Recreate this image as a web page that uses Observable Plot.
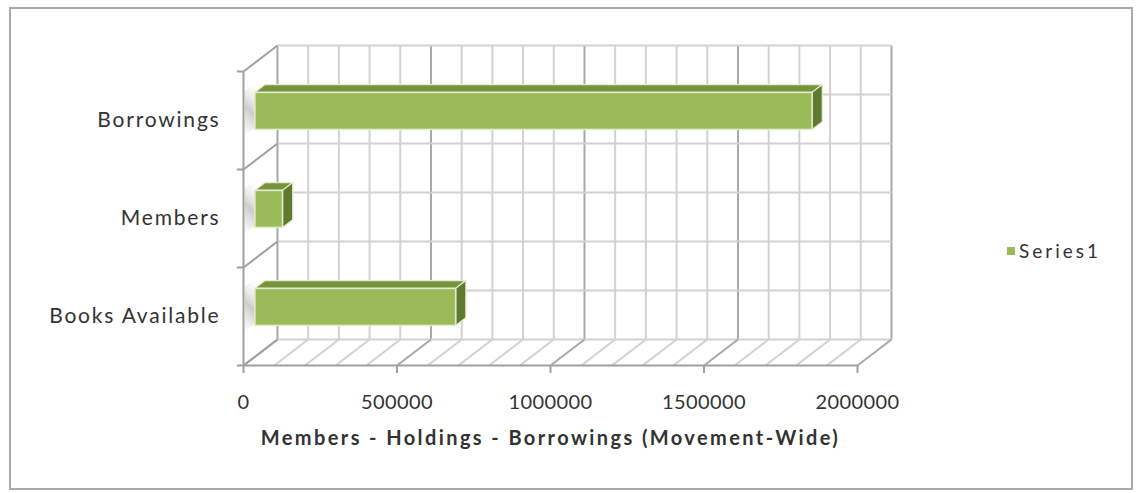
<!DOCTYPE html>
<html>
<head>
<meta charset="utf-8">
<script src="https://cdn.jsdelivr.net/npm/d3@7"></script>
<script src="https://cdn.jsdelivr.net/npm/@observablehq/plot@0.6"></script>
<style>
  html, body { margin: 0; padding: 0; background: #fff; }
  #wrap { position: relative; width: 1136px; height: 493px; font-family: Lato, "Open Sans", sans-serif; }
  #border { position: absolute; left: 9px; top: 7px; width: 1120px; height: 479px; border: 2px solid #a9a9a9; box-sizing: content-box; pointer-events: none; }
  #legend { position: absolute; left: 1007px; top: 239px; display: flex; align-items: center; font-size: 19px; letter-spacing: 3px; color: #333; }
  #legend .sw { width: 8px; height: 8px; background: #9bbb59; margin-right: 4px; }
</style>
</head>
<body>
<div id="wrap">
  <div id="chart"></div>
  <div id="border"></div>
  <div id="legend"><div class="sw"></div><span id="legendText"></span></div>
</div>
<script>
// ---- data ----
const categories = ["Books Available", "Members", "Borrowings"];
const values = [654000, 90000, 1815000];
const xTicks = [0, 500000, 1000000, 1500000, 2000000];
const seriesName = "Series1";
const axisTitle = "Members - Holdings - Borrowings (Movement-Wide)";

// ---- 3D projection constants (oblique) ----
const DX = 110700;   // depth offset in x data units
const DY = 0.265;    // depth offset in y (category) units
const Z0 = 0.35, Z1 = 0.65; // bar depth range
const H = 0.189;     // half bar thickness in category units
const XMAX = 2000000;

const minorTicks = d3.range(0, XMAX + 1, 100000);
const majorTicks = minorTicks.filter(t => t % 500000 === 0);
const minorOnly = minorTicks.filter(t => t % 500000 !== 0);
const hLines = d3.range(0, 3.01, 0.5);
const bandEdges = [0, 1, 2, 3];

const bars = categories.map((c, i) => ({cat: c, v: values[i], i, c: i + 0.5}));
const topRows = bars.flatMap(b => [Z0, Z1].map(z => ({i: b.i, y: b.c + H + z * DY, x1: z * DX, x2: b.v + z * DX})));
const sideRows = bars.flatMap(b => [Z0, Z1].map(z => ({i: b.i, x: b.v + z * DX, y1: b.c - H + z * DY, y2: b.c + H + z * DY})));
// soft shadow on the left wall next to each bar
const shadowRows = bars.flatMap(b => [0.05, Z1].map(z => ({i: b.i, x: z * DX, y1: b.c - H + 0.02 + z * DY, y2: b.c + H + 0.1 + z * DY})));

const gridMinor = "#d2d2d2", gridMajor = "#a8a8a8", axisCol = "#a0a0a0";

const chart = Plot.plot({
  width: 1136, height: 493,
  marginLeft: 243, marginRight: 279, marginTop: 71, marginBottom: 128,
  x: {domain: [0, XMAX]},
  y: {domain: [0, 3], axis: null},
  style: {fontFamily: "Lato, 'Open Sans', sans-serif", color: "#333", background: "transparent", overflow: "visible"},
  marks: [
    // back wall vertical gridlines
    Plot.link(minorOnly, {x1: t => t + DX, x2: t => t + DX, y1: DY, y2: 3 + DY, stroke: gridMinor, strokeWidth: 2}),
    Plot.link(majorTicks, {x1: t => t + DX, x2: t => t + DX, y1: DY, y2: 3 + DY, stroke: gridMajor, strokeWidth: 2}),
    // back wall horizontal gridlines
    Plot.link(hLines, {x1: DX, x2: XMAX + DX, y1: u => u + DY, y2: u => u + DY, stroke: gridMinor, strokeWidth: 2}),
    // floor diagonals
    Plot.link(minorOnly, {x1: t => t, y1: 0, x2: t => t + DX, y2: DY, stroke: gridMinor, strokeWidth: 2}),
    Plot.link(majorTicks, {x1: t => t, y1: 0, x2: t => t + DX, y2: DY, stroke: gridMajor, strokeWidth: 2}),
    // left wall shadows
    Plot.areaY(shadowRows, {x: "x", y1: "y1", y2: "y2", z: "i", fill: "url(#wallShadow)"}),
    // left wall diagonals
    Plot.link(bandEdges, {x1: 0, y1: u => u, x2: DX, y2: u => u + DY, stroke: axisCol, strokeWidth: 2}),
    // front axis lines
    Plot.link([0], {x1: 0, x2: XMAX, y1: 0, y2: 0, stroke: axisCol, strokeWidth: 2}),
    Plot.link([0], {x1: 0, x2: 0, y1: 0, y2: 3, stroke: axisCol, strokeWidth: 2}),
    Plot.ruleY(bandEdges, {x1: -20000, x2: 0, stroke: axisCol, strokeWidth: 2}),
    // bars: top, side, front
    Plot.areaX(topRows, {y: "y", x1: "x1", x2: "x2", z: "i", fill: "#77933c", stroke: "#e3ebd0", strokeWidth: 1.2}),
    Plot.areaY(sideRows, {x: "x", y1: "y1", y2: "y2", z: "i", fill: "#5f7a2f", stroke: "#e3ebd0", strokeWidth: 1.2}),
    Plot.rect(bars, {x1: Z0 * DX, x2: d => d.v + Z0 * DX, y1: d => d.c - H + Z0 * DY, y2: d => d.c + H + Z0 * DY, fill: "#9bbb59", stroke: "#e3ebd0", strokeWidth: 1.5}),
    // x axis
    Plot.axisX(xTicks, {tickSize: 8, tickPadding: 21, fontSize: 20, stroke: axisCol, strokeWidth: 2, fill: "#333", tickFormat: d => String(d), label: null}),
    // category labels
    Plot.text(bars, {x: 0, y: "c", text: "cat", dx: -23, textAnchor: "end", fontSize: 21, fill: "#333"}),
    // axis title
    Plot.text([axisTitle], {frameAnchor: "bottom", dy: 79, fontWeight: "bold", fontSize: 20, fill: "#333"})
  ]
});

// gradient for the wall shadow (soft grey smudge)
const svg = d3.select(chart);
const defs = svg.insert("defs", ":first-child");
const grad = defs.append("linearGradient").attr("id", "wallShadow").attr("x1", "0").attr("x2", "0.3").attr("y1", "1").attr("y2", "0");
grad.append("stop").attr("offset", "0%").attr("stop-color", "#9a9a9a").attr("stop-opacity", 0.0);
grad.append("stop").attr("offset", "45%").attr("stop-color", "#8f8f8f").attr("stop-opacity", 0.45);
grad.append("stop").attr("offset", "100%").attr("stop-color", "#ffffff").attr("stop-opacity", 0.0);

// text letter spacing to mimic the wide original typeface
const textGroups = svg.selectAll('g[aria-label="text"]').nodes();
if (textGroups[0]) d3.select(textGroups[0]).selectAll("text").style("letter-spacing", "1.8px");
if (textGroups[1]) d3.select(textGroups[1]).selectAll("text").style("letter-spacing", "2.4px");
svg.selectAll('g[aria-label="x-axis tick label"] text').style("letter-spacing", "0.4px");

document.getElementById("chart").appendChild(chart);
document.getElementById("legendText").textContent = seriesName;
</script>
</body>
</html>
